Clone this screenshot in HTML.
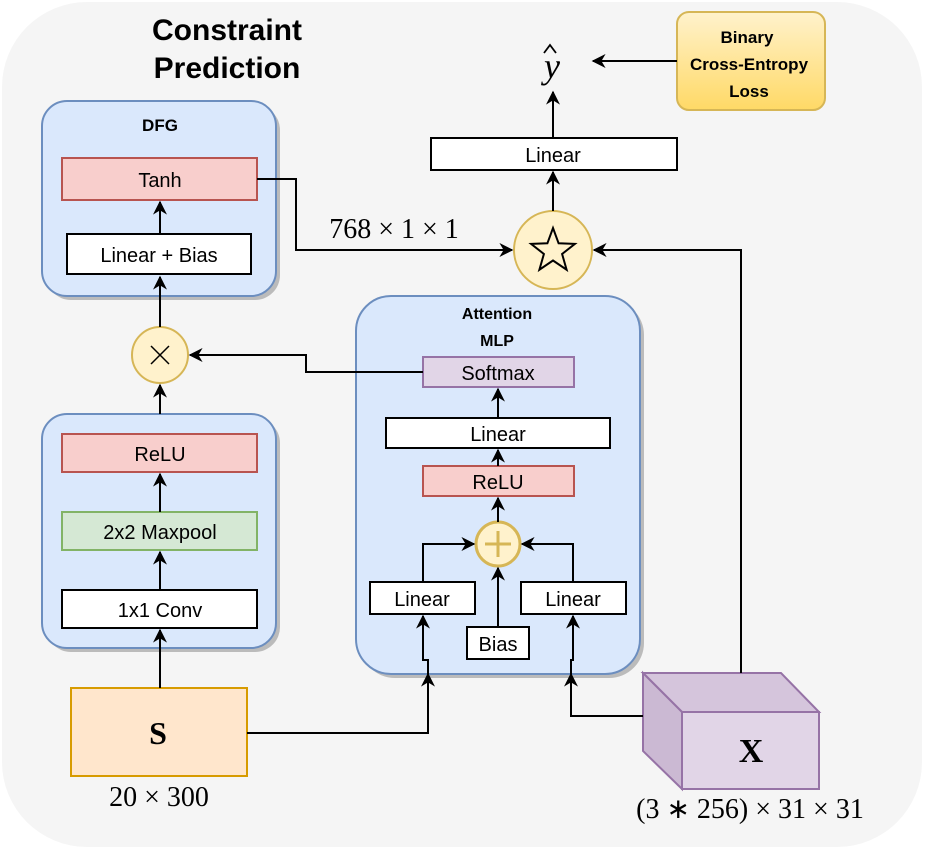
<!DOCTYPE html>
<html><head><meta charset="utf-8"><style>
html,body{margin:0;padding:0;background:#fff}
svg{display:block}
text{font-family:"Liberation Sans",sans-serif;fill:#000}
.m{font-family:"Liberation Serif",serif}
</style></head><body>
<svg width="951" height="851" viewBox="0 0 951 851" xmlns="http://www.w3.org/2000/svg">
<defs>
<marker id="a" viewBox="0 0 10 10" refX="9" refY="5" markerWidth="14" markerHeight="14" orient="auto" markerUnits="userSpaceOnUse">
<path d="M0,0 L10,5 L0,10 L3,5 z" fill="#000"/></marker>
<linearGradient id="g" x1="0" y1="0" x2="0" y2="1"><stop offset="0" stop-color="#fff2cc"/><stop offset="1" stop-color="#ffd966"/></linearGradient>
</defs>
<style>.ar{stroke:#000;stroke-width:2;fill:none;marker-end:url(#a)}</style>
<rect x="2" y="2" width="920" height="845" rx="85" fill="#f5f5f5"/>
<text x="227" y="40" font-size="30" font-weight="bold" text-anchor="middle">Constraint</text>
<text x="227" y="78" font-size="30" font-weight="bold" text-anchor="middle">Prediction</text>

<rect x="46" y="105" width="234" height="195" rx="25" fill="#bbb"/>
<rect x="42" y="101" width="234" height="195" rx="25" fill="#dae8fc" stroke="#6c8ebf" stroke-width="2"/>
<text x="160" y="131" font-size="17" font-weight="bold" text-anchor="middle">DFG</text>
<rect x="62" y="158" width="195" height="42" fill="#f8cecc" stroke="#b85450" stroke-width="2"/>
<text x="160" y="187" font-size="20" text-anchor="middle">Tanh</text>
<rect x="67" y="234" width="184" height="40" fill="#fff" stroke="#000" stroke-width="2"/>
<text x="159" y="262" font-size="20" text-anchor="middle">Linear + Bias</text>

<rect x="46" y="418" width="234" height="234" rx="25" fill="#bbb"/>
<rect x="42" y="414" width="234" height="234" rx="25" fill="#dae8fc" stroke="#6c8ebf" stroke-width="2"/>
<rect x="62" y="434" width="195" height="38" fill="#f8cecc" stroke="#b85450" stroke-width="2"/>
<text x="160" y="461" font-size="20" text-anchor="middle">ReLU</text>
<rect x="62" y="512" width="195" height="38" fill="#d5e8d4" stroke="#82b366" stroke-width="2"/>
<text x="160" y="539" font-size="20" text-anchor="middle">2x2 Maxpool</text>
<rect x="62" y="590" width="195" height="38" fill="#fff" stroke="#000" stroke-width="2"/>
<text x="160" y="617" font-size="20" text-anchor="middle">1x1 Conv</text>

<circle cx="160" cy="355" r="28" fill="#fff2cc" stroke="#d6b656" stroke-width="2"/>
<path d="M151,346 L169,364 M169,346 L151,364" stroke="#000" stroke-width="1.5"/>

<rect x="71" y="688" width="176" height="88" fill="#ffe6cc" stroke="#d79b00" stroke-width="2"/>
<text x="158" y="744" font-size="32" font-weight="bold" text-anchor="middle" class="m">S</text>
<text x="159" y="806" font-size="28" text-anchor="middle" class="m">20 × 300</text>

<rect x="360" y="300" width="284" height="378" rx="35" fill="#bbb"/>
<rect x="356" y="296" width="284" height="378" rx="35" fill="#dae8fc" stroke="#6c8ebf" stroke-width="2"/>
<text x="497" y="319" font-size="16" font-weight="bold" text-anchor="middle">Attention</text>
<text x="497" y="346" font-size="16" font-weight="bold" text-anchor="middle">MLP</text>
<rect x="423" y="357" width="151" height="30" fill="#e1d5e7" stroke="#9673a6" stroke-width="2"/>
<text x="498" y="380" font-size="20" text-anchor="middle">Softmax</text>
<rect x="386" y="418" width="224" height="30" fill="#fff" stroke="#000" stroke-width="2"/>
<text x="498" y="441" font-size="20" text-anchor="middle">Linear</text>
<rect x="423" y="466" width="151" height="30" fill="#f8cecc" stroke="#b85450" stroke-width="2"/>
<text x="498" y="489" font-size="20" text-anchor="middle">ReLU</text>
<circle cx="498" cy="544" r="22" fill="#fff2cc" stroke="#d6b656" stroke-width="3"/>
<path d="M485,544 H511 M498,531 V557" stroke="#d6b656" stroke-width="3"/>
<rect x="370" y="582" width="105" height="32" fill="#fff" stroke="#000" stroke-width="2"/>
<text x="422" y="606" font-size="20" text-anchor="middle">Linear</text>
<rect x="521" y="582" width="105" height="32" fill="#fff" stroke="#000" stroke-width="2"/>
<text x="573" y="606" font-size="20" text-anchor="middle">Linear</text>
<rect x="467" y="627" width="62" height="32" fill="#fff" stroke="#000" stroke-width="2"/>
<text x="498" y="651" font-size="20" text-anchor="middle">Bias</text>

<circle cx="553" cy="250" r="39" fill="#fff2cc" stroke="#d6b656" stroke-width="2"/>
<polygon points="553,228 558.6,243.3 574.9,243.9 562.1,254 566.6,269.7 553,260.5 539.4,269.7 543.9,254 531.1,243.9 547.4,243.3" fill="none" stroke="#000" stroke-width="2"/>
<rect x="431" y="138" width="246" height="32" fill="#fff" stroke="#000" stroke-width="2"/>
<text x="553" y="162" font-size="20" text-anchor="middle">Linear</text>
<text x="552" y="78" font-size="36" font-style="italic" text-anchor="middle" class="m">y</text>
<path d="M544,53 L550,45 L556,53" stroke="#000" stroke-width="1.8" fill="none"/>
<rect x="677" y="12" width="148" height="98" rx="12" fill="url(#g)" stroke="#d6b656" stroke-width="2"/>
<text x="747" y="43" font-size="17" font-weight="bold" text-anchor="middle">Binary</text>
<text x="749" y="70" font-size="17" font-weight="bold" text-anchor="middle">Cross-Entropy</text>
<text x="749" y="97" font-size="17" font-weight="bold" text-anchor="middle">Loss</text>

<polygon points="643,673 781,673 819,712 682,712" fill="#d5c5dc" stroke="#9673a6" stroke-width="2"/>
<polygon points="643,673 682,712 682,789 643,751" fill="#cbb9d3" stroke="#9673a6" stroke-width="2"/>
<rect x="682" y="712" width="137" height="77" fill="#e1d5e7" stroke="#9673a6" stroke-width="2"/>
<text x="751" y="762" font-size="34" font-weight="bold" text-anchor="middle" class="m">X</text>
<text x="750" y="818" font-size="28" text-anchor="middle" class="m">(3 ∗ 256) × 31 × 31</text>
<text x="394" y="238" font-size="28" text-anchor="middle" class="m">768 × 1 × 1</text>

<path class="ar" d="M257,179 H296 V250 H512"/>
<path class="ar" d="M741,673 V250 H594"/>
<path class="ar" d="M553,211 V172"/>
<path class="ar" d="M553,138 V92"/>
<path class="ar" d="M677,61 H593"/>
<path class="ar" d="M423,372 H306 V355 H190"/>
<path class="ar" d="M160,327 V277"/>
<path class="ar" d="M160,234 V202"/>
<path class="ar" d="M160,414 V385"/>
<path class="ar" d="M160,688 V630"/>
<path class="ar" d="M160,590 V552"/>
<path class="ar" d="M160,512 V474"/>
<path class="ar" d="M247,733 H428 V674"/>
<path class="ar" d="M428,676 V660 H423 V616"/>
<path class="ar" d="M643,716 H571 V674"/>
<path class="ar" d="M571,676 V660 H573 V616"/>
<path class="ar" d="M423,582 V544 H474"/>
<path class="ar" d="M573,582 V544 H522"/>
<path class="ar" d="M498,627 V568"/>
<path class="ar" d="M498,522 V498"/>
<path class="ar" d="M498,466 V450"/>
<path class="ar" d="M498,418 V389"/>
</svg>
</body></html>
